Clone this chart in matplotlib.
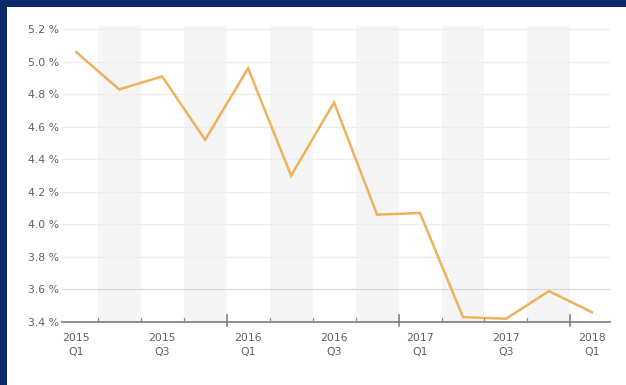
import matplotlib.pyplot as plt
from matplotlib.ticker import FixedLocator, FuncFormatter

quarters = ["2015 Q1", "2015 Q2", "2015 Q3", "2015 Q4",
            "2016 Q1", "2016 Q2", "2016 Q3", "2016 Q4",
            "2017 Q1", "2017 Q2", "2017 Q3", "2017 Q4",
            "2018 Q1"]
rate = [5.06, 4.83, 4.91, 4.52, 4.96, 4.30, 4.75, 4.06, 4.07, 3.43, 3.42, 3.59, 3.46]
yticks = [3.4, 3.6, 3.8, 4.0, 4.2, 4.4, 4.6, 4.8, 5.0, 5.2]

BLUE = "#0b2a6e"
ORANGE = "#f0b15e"
GREY = "#606060"

fig = plt.figure(figsize=(6.26, 3.85), dpi=100, facecolor=BLUE)
# white card, blue strip only on top and left
fig.patches.append(plt.Rectangle((7 / 626, 0), 1, 1 - 7 / 385,
                                 transform=fig.transFigure, facecolor="white",
                                 edgecolor="none", zorder=-10))

ax = fig.add_axes([62 / 626, 1 - 322 / 385, 548 / 626, 296 / 385])
ax.set_facecolor("none")

x = list(range(len(quarters)))

# shaded bands behind every second quarter
for i in x:
    if i % 2 == 1:
        ax.axvspan(i - 0.5, i + 0.5, color="#f5f5f5", lw=0, zorder=0)

for y in yticks[1:]:
    ax.axhline(y, color="#dadada" if y == 3.6 else "#ededed", lw=0.9, zorder=1)

ax.plot(x, rate, color=ORANGE, lw=1.8, zorder=3, solid_joinstyle="miter")

ax.set_xlim(-0.33, 12.42)
ax.set_ylim(3.4, 5.22)

for s in ["top", "right", "left"]:
    ax.spines[s].set_visible(False)
ax.spines["bottom"].set_color("#8f8f8f")
ax.spines["bottom"].set_linewidth(1.4)

ax.yaxis.set_major_locator(FixedLocator(yticks))
ax.yaxis.set_major_formatter(FuncFormatter(lambda v, p: f"{v:.1f} %"))
ax.tick_params(axis="y", length=0, pad=2, labelsize=7.8, labelcolor=GREY)

# labels on every other quarter, ticks on the quarter boundaries
ax.set_xticks(x[::2])
ax.set_xticklabels([q.replace(" ", "\n") for q in quarters[::2]],
                   linespacing=1.45)
ax.tick_params(axis="x", which="major", length=0, pad=8, labelsize=7.8,
               labelcolor=GREY)
bounds = [i + 0.5 for i in x[:-1]]
year_bounds = [b for b in bounds if (b + 0.5) % 4 == 0]
quarter_bounds = [b for b in bounds if (b + 0.5) % 4 != 0]
for b in quarter_bounds:
    ax.plot([b, b], [3.4, 3.425], color="#8f8f8f", lw=0.9, clip_on=False, zorder=4)
for b in year_bounds:
    ax.plot([b, b], [3.375, 3.44], color="#777777", lw=1.1, clip_on=False, zorder=4)

fig.savefig("out.png", dpi=100, facecolor=BLUE)
